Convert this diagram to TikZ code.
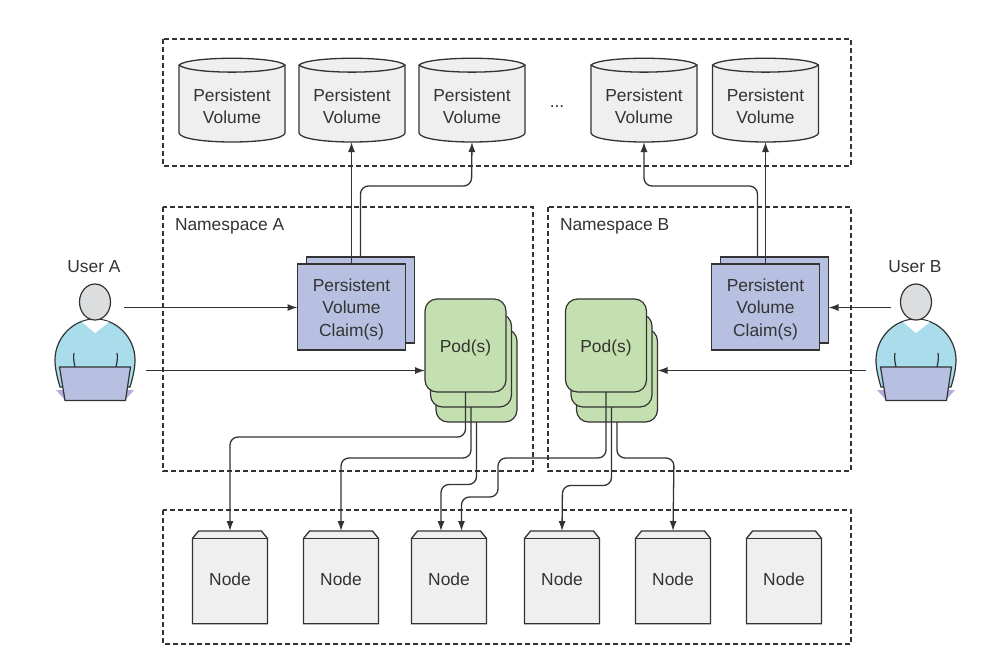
\documentclass[tikz,border=0pt]{standalone}
\usepackage{fontspec}
\setmainfont{Liberation Sans}
\usetikzlibrary{arrows.meta}
\definecolor{inkdark}{HTML}{333333}
\definecolor{volfill}{HTML}{EFEFEF}
\definecolor{claimfill}{HTML}{B7C0E0}
\definecolor{podfill}{HTML}{C5E0B0}
\definecolor{shirtfill}{HTML}{A9DDEC}
\definecolor{headfill}{HTML}{DCDDDE}
\definecolor{basefill}{HTML}{B3ABD9}
\tikzset{
    dashbox/.style={draw=inkdark,line width=1.1pt,dash pattern=on 5pt off 3pt},
    conn/.style={draw=inkdark,line width=1.3pt,rounded corners=8pt,-{Latex[length=10pt,width=7pt]}},
    plainconn/.style={draw=inkdark,line width=1.3pt,-{Latex[length=10pt,width=7pt]}},
    boxtext/.style={text=inkdark,font=\fontsize{17.4}{22.5}\selectfont,align=center,inner sep=0pt,outer sep=0pt},
    voltext/.style={boxtext,font=\fontsize{17.4}{22}\selectfont},
    volbox/.style={inner sep=0pt,outer sep=0pt,minimum width=106pt,minimum height=84pt},
    volshape/.style={draw=inkdark,line width=1.3pt,fill=volfill},
    claimbox/.style={draw=inkdark,line width=1.2pt,fill=claimfill,outer sep=0pt,minimum width=108pt,minimum height=86pt},
    podbox/.style={draw=inkdark,line width=1.2pt,fill=podfill,outer sep=0pt,rounded corners=12pt,minimum width=81pt,minimum height=93pt},
    nodebox/.style={inner sep=0pt,outer sep=0pt,minimum width=75pt,minimum height=92.7pt},
    userfig/.pic={
        \fill[basefill] (-39,88) -- (-30,88) -- (-30,98) -- cycle;
        \fill[basefill] (39,88) -- (30,88) -- (30,98) -- cycle;
        \draw[inkdark,line width=1.2pt,fill=shirtfill] (-35,85) .. controls (-38,75) and (-40,66) .. (-40,58)
            .. controls (-40,36) and (-22,17) .. (0,17) .. controls (22,17) and (40,36) .. (40,58)
            .. controls (40,66) and (38,75) .. (35,85) -- cycle;
        \fill[white] (-13,20) -- (0,31) -- (14,20) .. controls (5,17) and (-5,17) .. (-13,20) -- cycle;
        \draw[inkdark,line width=1.2pt] (-21,51) .. controls (-22,56) and (-21,60) .. (-20,65);
        \draw[inkdark,line width=1.2pt] (22,51) .. controls (23,56) and (22,60) .. (21,65);
        \draw[inkdark,line width=1.2pt,fill=headfill] (0,0) ellipse (15.5 and 18);
        \draw[inkdark,line width=1.2pt,fill=claimfill] (-35.5,65) -- (35.5,65) -- (30.5,98.5) -- (-30,98.5) -- cycle;
    }
}
\begin{document}
\begin{tikzpicture}[x=1pt,y=-1pt]
    \useasboundingbox (0,0) rectangle (1002,667);

    \draw[dashbox] (163,39) rectangle (851,166);
    \draw[dashbox] (163,207) rectangle (533,471);
    \draw[dashbox] (548,207) rectangle (851,471);
    \draw[dashbox] (163,510) rectangle (851,644);

    \foreach \i/\xc in {1/232,2/352,3/472,4/644,5/765.5}{
        \node[volbox] (vol\i) at (\xc,100) {};
        \draw[volshape] (vol\i.west |- 0,65) .. controls ([xshift=10pt]vol\i.west |- 0,56) and ([xshift=-10pt]vol\i.east |- 0,56) .. (vol\i.east |- 0,65)
            -- (vol\i.east |- 0,133) .. controls ([xshift=-2pt]vol\i.east |- 0,145) and ([xshift=2pt]vol\i.west |- 0,145) .. (vol\i.west |- 0,133) -- cycle;
        \draw[volshape,fill=none] (vol\i.west |- 0,65) .. controls ([xshift=10pt]vol\i.west |- 0,74.5) and ([xshift=-10pt]vol\i.east |- 0,74.5) .. (vol\i.east |- 0,65);
        \node[voltext] (voltext\i) at (\xc,106.5) {Persistent\\Volume};
    }
    \node[boxtext] (dots) at (557,107) {...};

    \node[boxtext,anchor=west] (nsa) at (175,226) {Namespace A};
    \node[boxtext,anchor=west] (nsb) at (560,226) {Namespace B};

    \node[claimbox] (claimab) at (360.5,300) {};
    \node[claimbox] (claima) at (351.5,307) {};
    \node[boxtext] (claimatext) at (351.5,309) {Persistent\\Volume\\Claim(s)};
    \node[claimbox] (claimbb) at (774.5,300) {};
    \node[claimbox] (claimb) at (765.5,307) {};
    \node[boxtext] (claimbtext) at (765.5,309) {Persistent\\Volume\\Claim(s)};

    \foreach \n/\xc in {a/465.5,b/606}{
        \node[podbox] (pod\n3) at (\xc+11,375.5) {};
        \node[podbox] (pod\n2) at (\xc+5.5,360.5) {};
        \node[podbox] (pod\n1) at (\xc,345.5) {};
        \node[boxtext] (podtext\n) at (\xc,348) {Pod(s)};
    }

    \foreach \i/\xc in {1/230,2/341,3/449,4/562,5/673,6/784}{
        \node[nodebox] (node\i) at (\xc,577.4) {};
        \draw[volshape] (node\i.south west) -- (node\i.west |- 0,538.4) -- ([xshift=6pt]node\i.north west)
            -- ([xshift=-6pt]node\i.north east) -- (node\i.east |- 0,538.4) -- (node\i.south east) -- cycle;
        \draw[inkdark,line width=1.6pt] (node\i.west |- 0,538.4) -- (node\i.east |- 0,538.4);
        \node[boxtext] (nodetext\i) at (\xc,579) {Node};
    }

    \pic (usera) at (95,302) {userfig};
    \pic (userb) at (916,302) {userfig};
    \node[boxtext] (labela) at (94,267) {User A};
    \node[boxtext] (labelb) at (915,267) {User B};

    \coordinate (ahead) at (124,307.5);
    \coordinate (alap) at (146,370.5);
    \coordinate (bhead) at (891,307.5);
    \coordinate (blap) at (866,370.5);
    \draw[plainconn] (ahead) -- (claima.west |- ahead);
    \draw[plainconn] (alap) -- (poda1.west |- alap);
    \draw[plainconn] (bhead) -- (claimbb.east |- bhead);
    \draw[plainconn] (blap) -- (podb3.east |- blap);

    \draw[plainconn] (claima.north) -- (claima.north |- vol2.south);
    \draw[conn] (claimab.north) |- (471.5,186) -- (vol3.south);
    \draw[plainconn] (claimb.north) -- (vol5.south);
    \draw[conn] ([xshift=-17pt]claimbb.north) |- (644,186) -- (vol4.south);

    \draw[conn] (poda1.south) |- (230,437) -- (node1.north);
    \draw[conn] (poda2.south) |- (341,458) -- (node2.north);
    \draw[conn] (poda3.south) |- (441,484.5) -- ([xshift=-8pt]node3.north);
    \draw[conn] (podb1.south) |- (498,458) |- (461.5,497) -- ([xshift=12.5pt]node3.north);
    \draw[conn] (podb2.south) |- (562.5,485.5) -- (node4.north);
    \draw[conn] (podb3.south) |- (674,458) -- (node5.north);
\end{tikzpicture}
\end{document}
